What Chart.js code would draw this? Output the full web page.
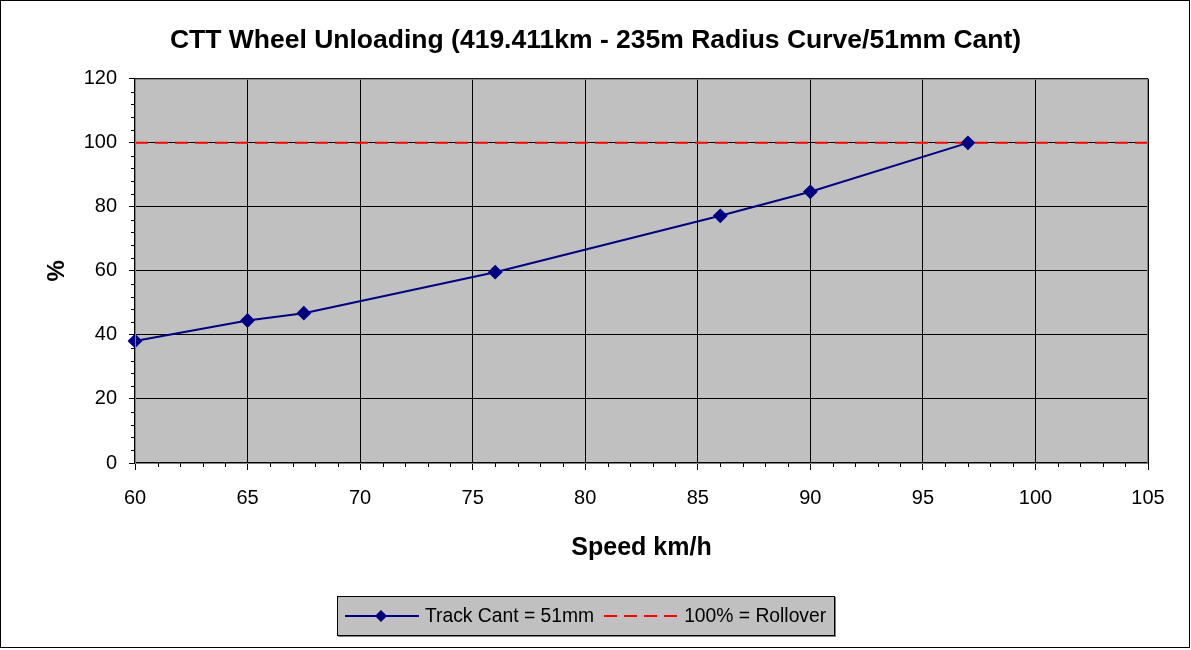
<!DOCTYPE html>
<html>
<head>
<meta charset="utf-8">
<script src="https://cdn.jsdelivr.net/npm/chart.js@4"></script>
<style>
  html, body { margin: 0; padding: 0; background: #fff; }
  #frame { position: absolute; left: 0; top: 0; width: 1188px; height: 646px; border: 1px solid #000; }
  #wrap { position: absolute; left: 0; top: 0; width: 1191px; height: 650px; }
  #legend {
    position: absolute; left: 337px; top: 596px; width: 496px; height: 38px;
    background: #c0c0c0; border: 1px solid #000; box-shadow: 1px 1px 0 #808080;
    font-family: "Liberation Sans", Arial, sans-serif; font-size: 19.3px; color: #000;
    display: flex; align-items: center;
  }
  #legend .item { display: flex; align-items: center; }
  #legend svg { display: block; margin-right: 6px; }
</style>
</head>
<body>
<div id="frame"></div>
<div id="wrap"><canvas id="chart" width="1191" height="650"></canvas></div>
<div id="legend">
  <div class="item" style="margin-left:7px">
    <svg width="74" height="20"><line x1="0" y1="10" x2="74" y2="10" stroke="#000080" stroke-width="2"/><polygon points="36,4 42,10 36,16 30,10" fill="#000080"/></svg>
    <span>Track Cant = 51mm</span>
  </div>
  <div class="item" style="margin-left:10px">
    <svg width="74" height="20"><line x1="0" y1="10" x2="74" y2="10" stroke="#ff0000" stroke-width="2" stroke-dasharray="13,7"/></svg>
    <span>100% = Rollover</span>
  </div>
</div>
<script>
const speeds = [60, 65, 67.5, 76, 86, 90, 97];
const unloading = [38.1, 44.5, 46.8, 59.6, 77.2, 84.7, 100];
const rolloverX = [60, 105];
const rolloverY = [100, 100];

const font = '"Liberation Sans", Arial, sans-serif';

const plotDecor = {
  id: 'plotDecor',
  beforeDraw(chart) {
    const { ctx, chartArea: a } = chart;
    ctx.save();
    ctx.fillStyle = '#c0c0c0';
    ctx.fillRect(a.left, a.top, a.right - a.left, a.bottom - a.top);
    ctx.restore();
  },
  afterDraw(chart) {
    const { ctx, chartArea: a, scales } = chart;
    ctx.save();
    ctx.strokeStyle = '#808080';
    ctx.lineWidth = 1;
    ctx.strokeRect(a.left + 0.5, a.top + 0.5, a.right - a.left - 1, a.bottom - a.top);
    ctx.strokeStyle = '#000';
    ctx.beginPath();
    // minor ticks
    for (let v = 60; v <= 105; v += 1) {
      if (v % 5 === 0) continue;
      const x = Math.round(scales.x.getPixelForValue(v)) + 0.5;
      ctx.moveTo(x, a.bottom);
      ctx.lineTo(x, a.bottom + 4);
    }
    for (let v = 0; v <= 120; v += 4) {
      if (v % 20 === 0) continue;
      const y = Math.round(scales.y.getPixelForValue(v)) + 0.5;
      ctx.moveTo(a.left, y);
      ctx.lineTo(a.left - 4, y);
    }
    ctx.stroke();
    ctx.restore();
  }
};

new Chart(document.getElementById('chart'), {
  type: 'line',
  data: {
    datasets: [
      {
        label: 'Track Cant = 51mm',
        data: speeds.map((s, i) => ({ x: s, y: unloading[i] })),
        borderColor: '#000080',
        backgroundColor: '#000080',
        borderWidth: 2,
        pointStyle: 'rectRot',
        pointRadius: 6,
        pointHoverRadius: 6,
        tension: 0,
        clip: false
      },
      {
        label: '100% = Rollover',
        data: rolloverX.map((s, i) => ({ x: s, y: rolloverY[i] })),
        borderColor: '#ff0000',
        borderWidth: 2,
        borderDash: [13, 7],
        pointRadius: 0,
        tension: 0
      }
    ]
  },
  options: {
    responsive: false,
    animation: false,
    layout: { padding: { left: 0, right: 0, top: 10, bottom: 87 } },
    plugins: {
      legend: { display: false },
      tooltip: { enabled: false },
      title: {
        display: true,
        text: 'CTT Wheel Unloading (419.411km - 235m Radius Curve/51mm Cant)',
        color: '#000',
        font: { family: font, size: 26.5, weight: 'bold' },
        padding: { top: 15, bottom: 22 }
      }
    },
    scales: {
      x: {
        type: 'linear',
        min: 60,
        max: 105,
        ticks: { stepSize: 5, color: '#000', font: { family: font, size: 20 }, padding: 16 },
        grid: { color: '#000', lineWidth: 1, tickLength: 7, tickColor: '#000' },
        border: { color: '#000', width: 2 },
        title: {
          display: true,
          text: 'Speed km/h',
          color: '#000',
          font: { family: font, size: 25, weight: 'bold' },
          padding: { bottom: 0 }
        },
        afterFit(scale) { scale.height = 100; }
      },
      y: {
        min: 0,
        max: 120,
        ticks: { stepSize: 20, color: '#000', font: { family: font, size: 20 }, padding: 12 },
        grid: { color: '#000', lineWidth: 1, tickLength: 6, tickColor: '#000' },
        border: { color: '#000', width: 2 },
        title: {
          display: true,
          text: '%',
          color: '#000',
          font: { family: font, size: 24, weight: 'bold' },
          padding: { top: 43 }
        },
        afterFit(scale) { scale.width = 135; }
      },
      // empty right-hand axis, only reserves the white margin right of the plot
      spacer: {
        position: 'right',
        min: 0,
        max: 120,
        grid: { display: false, drawTicks: false },
        border: { display: false },
        ticks: { display: false },
        afterFit(scale) { scale.width = 43; }
      }
    }
  },
  plugins: [plotDecor]
});
</script>
</body>
</html>
